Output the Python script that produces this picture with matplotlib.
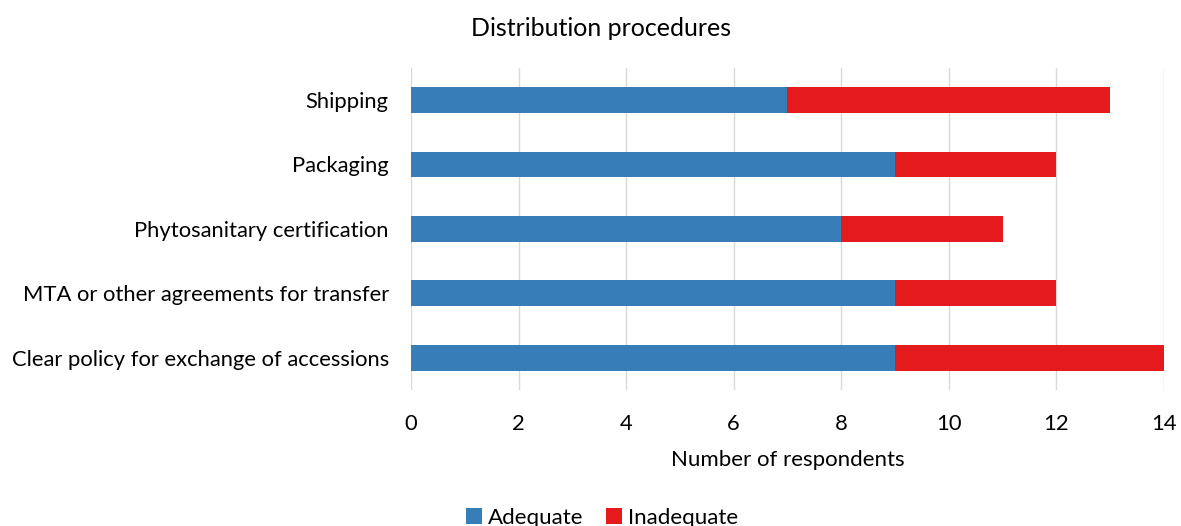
import matplotlib
matplotlib.use("Agg")
import matplotlib.pyplot as plt

categories = ["Shipping", "Packaging", "Phytosanitary certification",
              "MTA or other agreements for transfer",
              "Clear policy for exchange of accessions"]
adequate = [7, 9, 8, 9, 9]
inadequate = [6, 3, 3, 3, 5]
xticks = [0, 2, 4, 6, 8, 10, 12, 14]

plt.rcParams['font.family'] = ['Lato', 'DejaVu Sans']

fig = plt.figure(figsize=(11.81, 5.26), dpi=100)
ax = fig.add_axes([0.348, 0.2586, 0.6376, 0.6124])

y = list(range(len(categories)))
blue = "#377EB8"
red = "#E41A1C"
ax.barh(y, adequate, height=0.4, color=blue, label="Adequate", zorder=3)
ax.barh(y, inadequate, left=adequate, height=0.4, color=red, label="Inadequate", zorder=3)

ax.set_ylim(4.5, -0.5)
ax.set_xlim(0, 14)
ax.set_xticks(xticks)
ax.set_yticks(y)
ax.set_yticklabels(categories)
ax.tick_params(axis='both', length=0, labelsize=15.8, colors="#000000")
ax.tick_params(axis='y', pad=16)
ax.tick_params(axis='x', pad=17)
ax.grid(axis='x', color="#d9d9d9", linewidth=1, zorder=0)
for s in ax.spines.values():
    s.set_visible(False)
ax.set_xlabel("Number of respondents", fontsize=16, labelpad=12)

fig.text(0.509, 0.945, "Distribution procedures", ha='center', va='center', fontsize=18)
fig.legend(loc='center', bbox_to_anchor=(0.51, 0.016), ncol=2, frameon=False,
           fontsize=16, handlelength=0.7, handleheight=0.7, handletextpad=0.3,
           columnspacing=1.0)

fig.savefig("out.png", dpi=100)
